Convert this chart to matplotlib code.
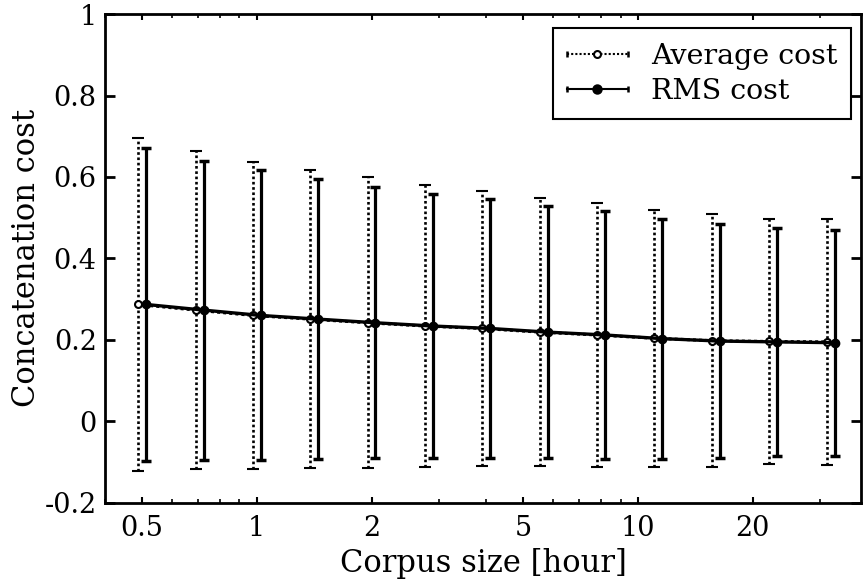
import matplotlib
matplotlib.use("Agg")
import matplotlib.pyplot as plt
from matplotlib.lines import Line2D
from matplotlib.legend_handler import HandlerBase
from matplotlib.ticker import FixedLocator, LogLocator, FuncFormatter, NullFormatter

# Corpus size in hours
corpus_hours = [0.5, 0.71, 1.0, 1.41, 2.0, 2.83, 4.0, 5.66, 8.0, 11.3, 16.0, 22.6, 32.0]

# Average concatenation cost: mean and standard deviation
avg_mean = [0.287, 0.273, 0.260, 0.251, 0.242, 0.234, 0.228, 0.219, 0.212, 0.204, 0.198, 0.196, 0.195]
avg_std = [0.408, 0.391, 0.378, 0.365, 0.357, 0.346, 0.338, 0.329, 0.325, 0.316, 0.311, 0.302, 0.302]

# RMS concatenation cost: mean and standard deviation
rms_mean = [0.287, 0.273, 0.260, 0.251, 0.242, 0.234, 0.228, 0.219, 0.212, 0.203, 0.197, 0.195, 0.193]
rms_std = [0.385, 0.367, 0.356, 0.344, 0.333, 0.324, 0.317, 0.310, 0.304, 0.295, 0.287, 0.280, 0.278]

x_ticks = [0.5, 1, 2, 5, 10, 20]
y_ticks = [-0.2, 0, 0.2, 0.4, 0.6, 0.8, 1.0]

plt.rcParams["font.family"] = ["DejaVu Serif"]
plt.rcParams["font.size"] = 19

fig = plt.figure(figsize=(8.63, 5.88), dpi=100)
ax = fig.add_axes([0.1217, 0.145, 0.8763, 0.831])

shift = 1.024
x_avg = [x / shift for x in corpus_hours]
x_rms = [x * shift for x in corpus_hours]

dot_dash = (0, (1.0, 1.0))

eb_avg = ax.errorbar(x_avg, avg_mean, yerr=avg_std, color="black",
                     linestyle=dot_dash, linewidth=2.2, marker="o", markersize=5,
                     markerfacecolor="white", markeredgewidth=1.5,
                     ecolor="black", elinewidth=1.9, capsize=4.0, capthick=2.6)
eb_avg[2][0].set_linestyle(dot_dash)

eb_rms = ax.errorbar(x_rms, rms_mean, yerr=rms_std, color="black",
                     linestyle="-", linewidth=2.4, marker="o", markersize=6,
                     markerfacecolor="black", ecolor="black",
                     elinewidth=2.3, capsize=3.8, capthick=2.5)

ax.set_xscale("log")
ax.set_xlim(0.4, 38.5)
ax.set_ylim(-0.2, 1.0)

ax.xaxis.set_major_locator(FixedLocator(x_ticks))
ax.xaxis.set_major_formatter(FuncFormatter(lambda v, p: f"{v:g}"))
ax.xaxis.set_minor_locator(LogLocator(base=10, subs=range(2, 10), numticks=20))
ax.xaxis.set_minor_formatter(NullFormatter())
ax.yaxis.set_major_locator(FixedLocator(y_ticks))
ax.yaxis.set_major_formatter(FuncFormatter(lambda v, p: f"{v:g}"))

ax.tick_params(axis="both", which="both", direction="in", top=True, right=True,
               colors="black", labelsize=19.5)
ax.tick_params(axis="x", which="major", length=4, width=1.5, pad=9)
ax.tick_params(axis="x", which="minor", length=3, width=1.2)
ax.tick_params(axis="y", which="major", length=7, width=2, pad=6)

for s in ax.spines.values():
    s.set_linewidth(2.0)
    s.set_color("black")

ax.set_xlabel("Corpus size [hour]", fontsize=22, labelpad=4)
ax.set_ylabel("Concatenation cost", fontsize=22, labelpad=2)


class CappedLineHandler(HandlerBase):
    """Legend key: horizontal line with end caps and a marker in the middle."""

    def __init__(self, linestyle, lw, mfc, ms):
        super().__init__()
        self.ls = linestyle
        self.lw = lw
        self.mfc = mfc
        self.ms = ms

    def create_artists(self, legend, orig_handle, xdescent, ydescent,
                       width, height, fontsize, trans):
        y = height / 2 - ydescent
        x0, x1 = -xdescent, -xdescent + width
        line = Line2D([x0, x1], [y, y], color="black", linestyle=self.ls,
                      linewidth=self.lw, transform=trans)
        caps = Line2D([x0, x1], [y, y], color="black", linestyle="none",
                      marker="|", markersize=5, markeredgewidth=1.8, transform=trans)
        mark = Line2D([(x0 + x1) / 2], [y], color="black", linestyle="none",
                      marker="o", markersize=self.ms, markerfacecolor=self.mfc,
                      markeredgewidth=1.5, transform=trans)
        return [line, caps, mark]


h_avg = Line2D([], [])
h_rms = Line2D([], [])
leg = ax.legend([h_avg, h_rms], ["Average cost", "RMS cost"],
                loc="upper right", bbox_to_anchor=(0.987, 0.971), borderaxespad=0,
                fancybox=False, edgecolor="black", framealpha=1,
                handlelength=2.15, handletextpad=0.8, borderpad=0.5,
                labelspacing=0.3, fontsize=20.5,
                handler_map={h_avg: CappedLineHandler(dot_dash, 1.5, "white", 5),
                             h_rms: CappedLineHandler("-", 1.5, "black", 6)})
leg.get_frame().set_linewidth(1.5)

fig.savefig("out.png", dpi=100)
